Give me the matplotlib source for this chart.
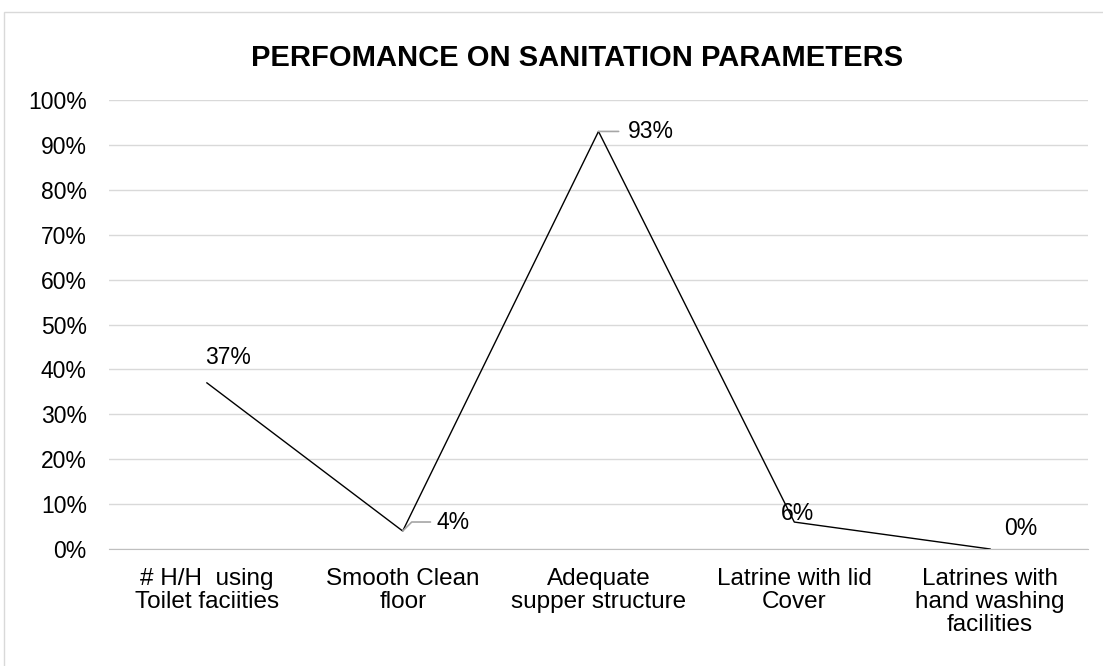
import numpy as np
import matplotlib.pyplot as plt
from matplotlib.patches import Rectangle

plt.rcParams['font.family'] = ['Liberation Sans', 'DejaVu Sans']

categories = ['# H/H  using\nToilet faciities', 'Smooth Clean\nfloor',
              'Adequate\nsupper structure', 'Latrine with lid\nCover',
              'Latrines with\nhand washing\nfacilities']
values = [0.37, 0.04, 0.93, 0.06, 0.00]
labels = ['37%', '4%', '93%', '6%', '0%']

fig = plt.figure(figsize=(11.03, 6.66), dpi=100)
# chart border
fig.patches.append(Rectangle((4 / 1103, -0.1), 1.2, 1 - 12 / 666 + 0.1,
                             transform=fig.transFigure, fill=False,
                             edgecolor='#d9d9d9', linewidth=1))

ax = fig.add_axes([109 / 1103, 1 - 549 / 666, 979 / 1103, 449 / 666])
x = np.arange(len(categories))
ax.plot(x, values, color='black', linewidth=1)

ax.set_xlim(-0.5, len(categories) - 0.5)
ax.set_ylim(0, 1)
yt = np.arange(0, 1.01, 0.1)
ax.set_yticks(yt)
ax.set_yticklabels([f'{int(round(v * 100))}%' for v in yt])
ax.set_xticks(x)
ax.set_xticklabels(categories, linespacing=1.05)
ax.tick_params(axis='both', length=0)
ax.tick_params(axis='y', labelsize=16.5, pad=16)
ax.tick_params(axis='x', labelsize=17.5, pad=14)

ax.grid(axis='y', color='#d9d9d9', linewidth=1)
ax.set_axisbelow(True)
for s in ['top', 'right', 'left']:
    ax.spines[s].set_visible(False)
ax.spines['bottom'].set_color('#bfbfbf')

# data labels
fs = 16.5
ax.annotate(labels[0], (x[0], values[0]), xytext=(-1, 18), textcoords='offset points',
            ha='left', va='center', fontsize=fs)
ax.annotate(labels[1], (x[1], values[1]), xytext=(24, 6.5), textcoords='offset points',
            ha='left', va='center', fontsize=fs,
            arrowprops=dict(arrowstyle='-', color='#a6a6a6', lw=1.2,
                            connectionstyle='angle,angleA=0,angleB=45,rad=0', shrinkA=2, shrinkB=0))
ax.annotate(labels[2], (x[2], values[2]), xytext=(21.5, 0), textcoords='offset points',
            ha='left', va='center', fontsize=fs,
            arrowprops=dict(arrowstyle='-', color='#a6a6a6', lw=1.2, shrinkA=5, shrinkB=0))
ax.annotate(labels[3], (x[3], values[3]), xytext=(-9.5, 6.5), textcoords='offset points',
            ha='left', va='center', fontsize=fs)
ax.annotate(labels[4], (x[4], values[4]), xytext=(10, 15), textcoords='offset points',
            ha='left', va='center', fontsize=fs)

fig.text(577 / 1103, 1 - 58 / 666, 'PERFOMANCE ON SANITATION PARAMETERS',
         ha='center', va='center', fontsize=21, fontweight='bold')

fig.savefig('out.png', dpi=100)
